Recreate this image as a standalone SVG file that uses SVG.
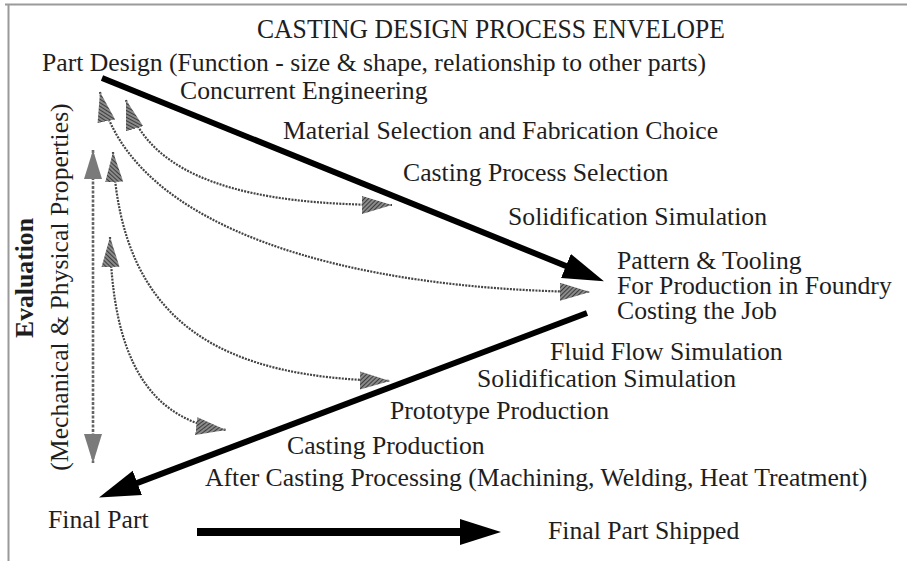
<svg xmlns="http://www.w3.org/2000/svg" width="907" height="561" viewBox="0 0 907 561">
  <style>
    .t { font-family: "Liberation Serif", "Times New Roman", serif; font-size: 25.7px; fill: #1e1e1e; }
    .title { font-family: "Liberation Serif", "Times New Roman", serif; font-size: 27px; fill: #1e1e1e; }
    .bold { font-weight: bold; }
    .main { fill: none; stroke: #000; stroke-width: 6; }
    .dotted { fill: none; stroke: #444; stroke-width: 2.2; stroke-dasharray: 2 1.2; }
    .eval { fill: none; stroke: #666; stroke-width: 2.6; stroke-dasharray: 3 1.5; }
    .frame { fill: none; stroke: #9a9a9a; stroke-width: 2; }
  </style>
  <defs>
    <pattern id="hatch" width="3" height="3" patternUnits="userSpaceOnUse" patternTransform="rotate(45)">
      <rect width="3" height="3" fill="#8a8a8a"/>
      <line x1="0" y1="0" x2="0" y2="3" stroke="#222" stroke-width="1.5"/>
    </pattern>
    <marker id="bigHead" markerUnits="userSpaceOnUse" markerWidth="44" markerHeight="30" refX="2" refY="13" orient="auto">
      <path d="M0,0 L41,13 L0,26 z" fill="#000"/>
    </marker>
    <marker id="hatchHead" markerUnits="userSpaceOnUse" markerWidth="34" markerHeight="20" refX="30" refY="9" orient="auto-start-reverse">
      <path d="M0,0 L30,9 L0,18 z" fill="url(#hatch)"/>
    </marker>
    <marker id="grayHead" markerUnits="userSpaceOnUse" markerWidth="32" markerHeight="20" refX="29" refY="9" orient="auto-start-reverse">
      <path d="M0,0 L29,9 L0,18 z" fill="#7a7a7a"/>
    </marker>
  </defs>

  <!-- page frame -->
  <path class="frame" d="M5,4.5 H907 M8.5,4 V561"/>

  <!-- connectors -->
  <g id="connectors">
    <line class="main" x1="102" y1="78" x2="567.8" y2="266.7" marker-end="url(#bigHead)"/>
    <line class="main" x1="587" y1="313" x2="135.5" y2="483.6" marker-end="url(#bigHead)"/>
    <line class="main" style="stroke-width:8" x1="197" y1="532" x2="462" y2="532" marker-end="url(#bigHead)"/>

    <path class="eval" d="M93,150 V463" marker-start="url(#grayHead)" marker-end="url(#grayHead)"/>

    <path class="dotted" d="M126,100 C150,180 250,205 392,205" marker-start="url(#hatchHead)" marker-end="url(#hatchHead)"/>
    <path class="dotted" d="M100,92 C130,230 350,290 590,292" marker-start="url(#hatchHead)" marker-end="url(#hatchHead)"/>
    <path class="dotted" d="M113,152 C120,330 230,378 390,381" marker-start="url(#hatchHead)" marker-end="url(#hatchHead)"/>
    <path class="dotted" d="M110,237 C112,360 150,420 226,430" marker-start="url(#hatchHead)" marker-end="url(#hatchHead)"/>
  </g>

  <!-- nodes -->
  <g id="title"><text class="title" x="491" y="38" text-anchor="middle" textLength="468" lengthAdjust="spacingAndGlyphs">CASTING DESIGN PROCESS ENVELOPE</text></g>
  <g id="part-design"><text class="t" x="42" y="71">Part Design (Function - size &amp; shape, relationship to other parts)</text></g>
  <g id="concurrent-engineering"><text class="t" x="180" y="99">Concurrent Engineering</text></g>
  <g id="material-selection"><text class="t" x="283" y="139">Material Selection and Fabrication Choice</text></g>
  <g id="casting-process-selection"><text class="t" x="403" y="181">Casting Process Selection</text></g>
  <g id="solidification-simulation-1"><text class="t" x="508" y="225">Solidification Simulation</text></g>
  <g id="pattern-tooling">
    <text class="t" x="617" y="269">Pattern &amp; Tooling</text>
    <text class="t" x="617" y="294">For Production in Foundry</text>
    <text class="t" x="617" y="319">Costing the Job</text>
  </g>
  <g id="fluid-flow-simulation"><text class="t" x="550" y="360">Fluid Flow Simulation</text></g>
  <g id="solidification-simulation-2"><text class="t" x="477" y="387">Solidification Simulation</text></g>
  <g id="prototype-production"><text class="t" x="390" y="419">Prototype Production</text></g>
  <g id="casting-production"><text class="t" x="287" y="454">Casting Production</text></g>
  <g id="after-casting"><text class="t" x="205" y="486">After Casting Processing (Machining, Welding, Heat Treatment)</text></g>
  <g id="final-part"><text class="t" x="48" y="528">Final Part</text></g>
  <g id="final-part-shipped"><text class="t" x="548" y="539">Final Part Shipped</text></g>
  <g id="evaluation">
    <text class="t bold" transform="translate(33,278) rotate(-90)" text-anchor="middle">Evaluation</text>
    <text class="t" transform="translate(68,287) rotate(-90)" text-anchor="middle">(Mechanical &amp; Physical Properties)</text>
  </g>
</svg>
